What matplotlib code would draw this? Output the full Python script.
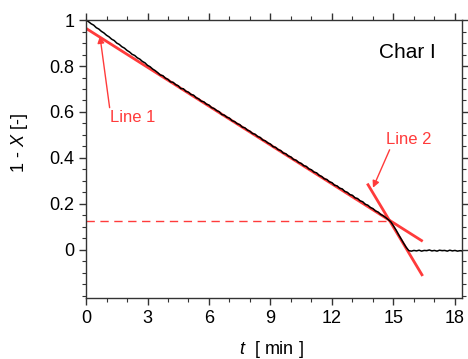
import matplotlib
matplotlib.use("Agg")
import matplotlib.pyplot as plt
from matplotlib.ticker import MultipleLocator

plt.rcParams['font.family'] = ['Liberation Sans', 'DejaVu Sans']
plt.rcParams['mathtext.fontset'] = 'custom'
plt.rcParams['mathtext.rm'] = 'Liberation Sans'
plt.rcParams['mathtext.it'] = 'Liberation Sans:italic'

# measured conversion curve (time in min)
t_min = [
    0.0, 0.125, 0.25, 0.375, 0.5, 0.625, 0.75, 0.875, 1.0, 1.125, 1.25, 1.375,
    1.5, 1.625, 1.75, 1.875, 2.0, 2.125, 2.25, 2.375, 2.5, 2.625, 2.75, 2.875,
    3.0, 3.125, 3.25, 3.375, 3.5, 3.625, 3.75, 3.875, 4.0, 4.125, 4.25, 4.375,
    4.5, 4.625, 4.75, 4.875, 5.0, 5.125, 5.25, 5.375, 5.5, 5.625, 5.75, 5.875,
    6.0, 6.125, 6.25, 6.375, 6.5, 6.625, 6.75, 6.875, 7.0, 7.125, 7.25, 7.375,
    7.5, 7.625, 7.75, 7.875, 8.0, 8.125, 8.25, 8.375, 8.5, 8.625, 8.75, 8.875,
    9.0, 9.125, 9.25, 9.375, 9.5, 9.625, 9.75, 9.875, 10.0, 10.125, 10.25, 10.375,
    10.5, 10.625, 10.75, 10.875, 11.0, 11.125, 11.25, 11.375, 11.5, 11.625, 11.75, 11.875,
    12.0, 12.125, 12.25, 12.375, 12.5, 12.625, 12.75, 12.875, 13.0, 13.125, 13.25, 13.375,
    13.5, 13.625, 13.75, 13.875, 14.0, 14.125, 14.25, 14.375, 14.5, 14.625, 14.75, 14.875,
    15.0, 15.125, 15.25, 15.375, 15.5, 15.625, 15.75, 15.875, 16.0, 16.125, 16.25, 16.375,
    16.5, 16.625, 16.75, 16.875, 17.0, 17.125, 17.25, 17.375, 17.5, 17.625, 17.75, 17.875,
    18.0, 18.125, 18.25, 18.34]
one_minus_x = [
    1.000, 0.993, 0.984, 0.978, 0.967, 0.961, 0.951, 0.944, 0.934, 0.927, 0.917, 0.911,
    0.900, 0.894, 0.884, 0.878, 0.868, 0.861, 0.851, 0.846, 0.836, 0.830, 0.820, 0.814,
    0.803, 0.797, 0.787, 0.780, 0.771, 0.761, 0.758, 0.747, 0.742, 0.731, 0.729, 0.719,
    0.714, 0.702, 0.701, 0.690, 0.686, 0.676, 0.673, 0.662, 0.657, 0.647, 0.644, 0.634,
    0.630, 0.619, 0.615, 0.606, 0.601, 0.589, 0.586, 0.577, 0.573, 0.562, 0.558, 0.549,
    0.545, 0.534, 0.531, 0.521, 0.516, 0.506, 0.503, 0.493, 0.489, 0.478, 0.474, 0.465,
    0.460, 0.449, 0.446, 0.436, 0.432, 0.421, 0.418, 0.408, 0.404, 0.393, 0.390, 0.380,
    0.376, 0.366, 0.363, 0.352, 0.348, 0.338, 0.335, 0.324, 0.319, 0.309, 0.306, 0.296,
    0.292, 0.281, 0.278, 0.268, 0.265, 0.254, 0.250, 0.240, 0.237, 0.226, 0.223, 0.213,
    0.209, 0.198, 0.194, 0.184, 0.179, 0.169, 0.164, 0.154, 0.148, 0.140, 0.131, 0.121,
    0.104, 0.086, 0.066, 0.047, 0.028, 0.010, -0.004, -0.006, -0.003, -0.005, -0.002, -0.006,
    -0.003, -0.004, -0.001, -0.005, -0.003, -0.006, -0.002, -0.004, -0.003, -0.006, -0.002, -0.005,
    -0.003, -0.006, -0.004, -0.005]

# fitted lines
line1_t = [0.0, 16.37]
line1_y = [0.964, 0.040]
line2_t = [13.76, 16.39]
line2_y = [0.283, -0.109]
cross_t = [0.0, 14.83]
cross_y = [0.127, 0.127]

red = '#ff3b3b'

fig = plt.figure(figsize=(4.68, 3.59), dpi=100)
ax = fig.add_axes([0.1838, 0.170, 0.8032, 0.774])

ax.plot(cross_t, cross_y, color=red, lw=1.0, dashes=(6, 4))
ax.plot(line1_t, line1_y, color=red, lw=2.0)
ax.plot(line2_t, line2_y, color=red, lw=2.0)
ax.plot(t_min, one_minus_x, color='black', lw=1.1)

ax.set_xlim(0, 18.34)
ax.set_ylim(-0.21, 1.0)
ax.xaxis.set_major_locator(MultipleLocator(3))
ax.xaxis.set_minor_locator(MultipleLocator(1))
ax.yaxis.set_minor_locator(MultipleLocator(0.05))
ax.set_yticks([0, 0.2, 0.4, 0.6, 0.8, 1.0])
ax.set_yticklabels(['0', '0.2', '0.4', '0.6', '0.8', '1'])
ax.tick_params(which='both', direction='out', top=True, right=True,
               labelsize=13, color='#333333')
ax.tick_params(which='major', length=5, width=1)
ax.tick_params(which='minor', length=3, width=0.8)
for s in ax.spines.values():
    s.set_color('#333333')
    s.set_linewidth(1.0)

fig.text(271 / 468, 1 - 350 / 359, r'$t$  [ min ]', fontsize=13, ha='center', va='center')
fig.text(20 / 468, 1 - 143 / 359, r'1 - $X$ [-]', fontsize=13, ha='center', va='center',
         rotation=90)

ax.annotate('Line 1', xy=(0.68, 0.93), xytext=(1.17, 0.574), color=red, fontsize=12,
            ha='left', va='center',
            arrowprops=dict(arrowstyle='-|>', color=red, lw=1.0, mutation_scale=10,
                            shrinkA=0, shrinkB=0, relpos=(0.0, 1.0)))
ax.annotate('Line 2', xy=(14.0, 0.27), xytext=(14.65, 0.48), color=red, fontsize=12,
            ha='left', va='center',
            arrowprops=dict(arrowstyle='-|>', color=red, lw=1.0, mutation_scale=10,
                            shrinkA=0, shrinkB=0, relpos=(0.1, 0.0)))
ax.text(15.7, 0.861, 'Char I', fontsize=15, ha='center', va='center', color='black')

fig.savefig('out.png', dpi=100)
